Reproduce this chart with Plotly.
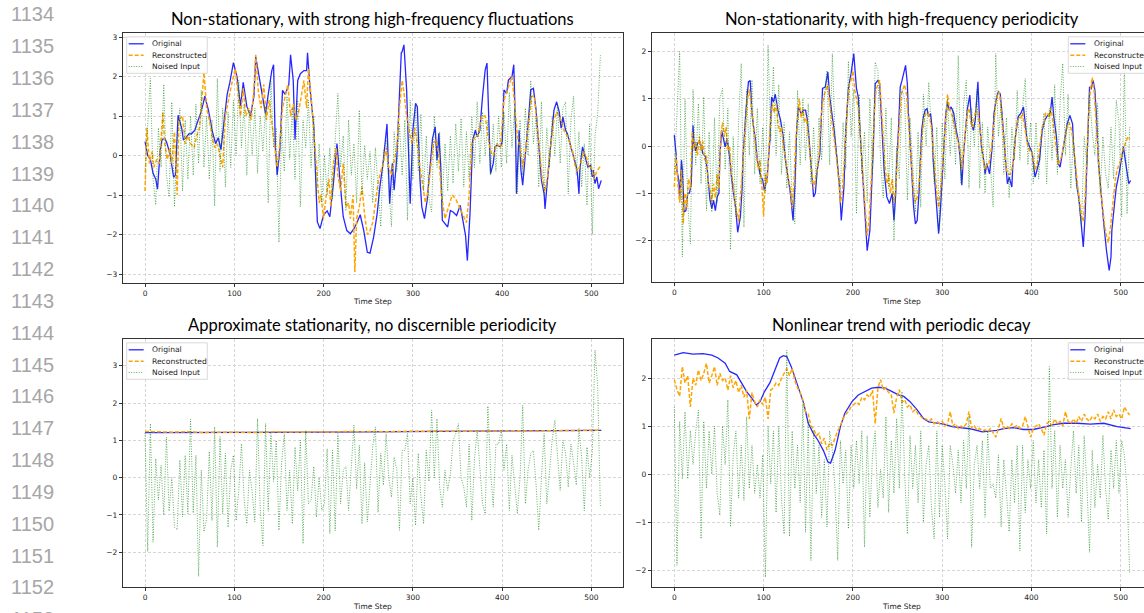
import plotly.graph_objects as go

W, H = 1144, 613

# ---------------- DATA ----------------
# Panel 1: Non-stationary, with strong high-frequency fluctuations
p1_orig_x = [0,3,6,9,12,14,17,19,22,24,28,32,34,37,41,43,46,49,52,56,58,62,65,67,71,75,79,82,85,88,
             92,95,99,103,107,110,114,118,122,124,128,131,135,138,142,144,146,148,151,154,157,161,163,166,168,171,174,178,181,182,
             185,189,193,196,200,204,207,211,215,219,222,226,230,234,237,241,245,249,252,256,260,263,267,271,274,277,279,282,285,287,
             288,290,293,295,297,300,303,305,308,310,313,316,319,322,325,327,329,331,333,336,339,342,345,349,353,356,359,361,364,367,
             370,372,375,378,381,383,385,387,390,392,394,398,400,402,405,407,411,413,415,416,419,421,423,426,430,432,435,438,441,444,
             447,448,450,454,458,461,464,466,468,471,473,476,479,482,484,486,487,490,493,496,499,501,502,504,506,508,511]
p1_orig_y = [0.35,0.0,-0.1,-0.45,-0.6,-0.85,0.13,0.4,0.43,0.35,0.05,-0.55,-0.5,1.02,0.7,0.4,0.45,0.55,0.55,0.65,0.8,1.05,1.3,1.5,1.15,0.65,0.3,0.45,0.15,0.75,
             1.55,1.85,2.35,2.0,1.25,1.85,1.25,1.0,1.5,2.5,2.0,1.65,1.05,1.55,2.15,2.3,0.2,-0.5,0.15,1.65,1.55,1.78,2.55,1.9,0.4,1.9,2.07,2.15,2.15,2.6,
             1.65,0.73,-1.68,-1.85,-1.5,-1.4,-1.55,-0.7,0.3,-0.8,-1.55,-1.9,-1.98,-1.85,-1.72,-1.5,-1.9,-2.45,-2.47,-2.07,-1.47,-0.8,-0.12,0.8,-1.22,-0.2,-0.88,-0.03,1.5,2.6,
             2.63,2.8,1.66,0.22,-1.22,0.64,1.32,1.23,-0.63,-1.3,-1.6,-1.13,-0.37,0.43,0.73,-0.12,0.56,-0.2,-1.64,-1.73,-1.81,-1.39,-1.43,-1.52,-1.26,-1.64,-2.03,-2.66,-1.47,0.39,
             0.64,0.47,0.64,1.49,2.17,2.34,0.81,-0.46,-0.2,0.22,0.26,0.22,0.35,1.66,1.57,1.91,2.0,2.3,0.64,-0.97,0.64,-0.37,-0.75,-0.03,1.07,1.66,1.7,1.15,0.14,-0.63,
             -0.97,-1.35,-0.8,0.14,1.15,1.36,1.1,0.69,0.98,0.64,0.56,0.3,0.05,-0.2,-0.37,-0.97,-0.37,0.22,-0.03,-0.29,-0.25,-0.54,-0.37,-0.71,-0.54,-0.84,-0.63]

p1_rec_x = [0,2,5,8,10,13,16,18,20,22,25,28,30,33,36,38,42,45,48,51,55,58,61,64,66,69,72,75,78,81,
            84,87,90,93,96,99,101,104,107,110,113,116,119,122,124,127,130,133,136,139,142,145,148,151,154,157,160,163,166,169,
            172,175,178,181,183,186,189,192,195,197,200,203,206,208,211,214,216,219,222,225,228,230,233,235,237,240,243,246,249,252,
            255,258,261,264,267,270,273,276,279,282,285,288,290,293,296,299,302,305,308,311,314,317,320,323,326,329,332,336,340,344,
            348,352,356,360,363,366,370,373,377,381,384,387,390,394,398,402,405,408,411,414,417,420,423,426,430,433,436,439,442,445,
            448,451,454,458,461,464,467,470,473,476,479,482,485,488,491,494,497,500,503,506,509,511]
p1_rec_y = [-0.9,0.7,-0.2,0.1,-0.3,-0.1,-0.2,0.5,1.1,0.3,-0.1,0.2,-0.2,0.6,-1.0,0.9,1.0,0.3,0.5,0.3,0.2,0.5,0.7,1.5,2.1,1.2,0.9,0.5,0.2,0.3,
            0.0,-0.3,1.0,1.4,1.7,2.0,2.2,1.6,1.0,1.7,1.0,1.2,0.9,1.7,2.55,1.6,1.2,1.8,0.9,1.4,0.8,0.2,-0.3,0.3,1.2,1.5,1.8,1.0,1.3,0.9,
            1.1,1.5,1.9,1.2,2.2,1.5,0.6,-0.3,-1.2,-1.0,-1.6,-1.0,-0.6,-1.3,-0.2,0.2,-0.5,-0.9,-0.2,-1.3,-1.2,-1.6,-1.0,-2.95,-1.6,-1.3,-0.8,-1.5,-2.0,-1.9,
            -1.7,-1.2,-0.7,-0.4,-0.2,0.2,-0.3,-0.5,-0.1,0.2,1.2,1.9,1.6,1.0,0.6,0.3,0.7,0.3,-0.3,-0.8,-1.2,-0.9,-0.3,0.3,0.4,0.0,-1.0,-1.6,-1.3,-1.0,
            -1.1,-1.3,-1.5,-1.7,-1.0,0.3,0.5,0.5,1.0,1.0,0.5,0.1,0.0,0.3,0.2,1.4,1.6,1.8,2.0,1.3,0.5,0.2,-0.3,0.1,0.9,1.5,1.5,0.8,0.0,-0.6,
            -0.9,-0.5,0.2,0.9,1.1,1.0,0.8,0.6,0.5,0.3,0.1,-0.3,-0.4,-0.2,0.1,0.0,-0.3,-0.3,-0.6,-0.4,-0.3,-0.3]

# noised inputs sampled every 3 steps
p1_noise_y = [-0.4,0.7,1.95,-0.6,-1.25,0.7,-0.3,1.8,-0.5,-1.05,
              1.35,-1.3,0.3,1.2,-0.9,0.9,-0.6,1.0,-0.5,1.3,
              -0.2,1.65,-0.3,1.0,-0.6,0.9,-1.28,1.95,-0.4,1.2,
              -0.8,1.1,-0.3,1.4,0.0,1.9,0.2,1.3,-0.5,1.15,
              0.0,1.2,-0.45,1.0,0.1,1.23,-1.2,1.9,0.2,0.7,
              -2.2,0.73,-0.4,1.5,-0.1,1.2,-0.6,1.4,-1.3,0.9,
              0.2,1.4,-0.3,1.0,-1.0,0.3,-1.2,0.0,-1.0,0.2,
              -1.1,0.4,1.57,-0.3,0.5,-1.4,0.9,-0.5,0.3,-1.2,
              1.15,-1.0,0.26,-0.6,0.1,-1.2,0.2,-0.8,-1.8,0.1,
              0.4,-0.8,-1.8,0.6,-0.4,0.8,-0.5,0.9,-1.64,1.4,
              -0.6,1.27,-0.4,1.05,-0.9,0.5,-1.1,-1.43,1.0,-0.3,
              0.6,-1.2,0.3,-0.9,0.5,-0.7,0.8,-0.4,0.94,-0.8,
              0.6,-0.6,1.0,-0.3,1.36,-0.2,1.1,0.0,0.9,-0.5,
              0.8,-0.4,1.0,-0.3,1.1,-0.2,1.6,0.2,1.2,-0.97,
              0.9,-0.5,1.2,0.0,1.9,0.3,1.0,-0.8,1.36,-1.0,
              0.7,-0.3,1.0,0.0,1.3,-0.2,1.2,1.36,-0.97,0.9,
              1.5,-0.5,0.6,-0.8,0.3,-1.26,0.8,-2.0,0.5,1.06,
              2.54]

# Panel 2: Non-stationarity, with high-frequency periodicity
p2_orig_x = [0,2,3,5,6,8,9,11,13,15,17,19,21,22,24,26,28,30,32,35,37,40,42,44,46,48,50,51,53,55,
             57,59,62,64,66,69,71,74,76,77,80,83,85,87,89,91,93,96,99,101,104,107,109,111,113,116,119,122,124,127,
             130,133,135,137,139,142,145,147,149,151,153,156,158,160,163,166,169,172,174,176,179,182,185,187,190,192,195,198,201,204,
             206,208,210,212,214,216,219,221,223,225,228,230,233,235,238,241,244,246,248,249,251,253,255,257,259,261,262,264,266,268,
             270,272,274,276,277,279,281,283,285,287,289,290,292,294,296,298,300,302,304,306,308,310,313,315,317,318,320,322,324,326,
             328,331,333,335,337,340,342,344,347,348,350,353,356,358,361,363,365,367,369,371,373,375,378,379,382,385,388,391,393,395,
             398,401,403,404,406,409,412,415,418,421,423,425,428,430,432,434,436,438,440,443,446,447,449,451,453,455,457,458,460,462,
             464,465,467,469,471,473,475,478,481,484,486,487,489,490,493,495,498,500,503,505,507,509,511]
p2_orig_y = [0.23,-0.16,-0.52,-0.73,-1.15,-0.3,-0.5,-1.4,-1.37,-1.0,-1.0,-0.8,0.44,0.05,-0.1,0.05,0.12,0.01,-0.16,-0.23,-0.52,-1.15,-1.33,-1.15,-1.37,-1.08,-1.0,-0.23,0.33,0.12,
             -0.02,0.16,-0.23,-0.66,-0.94,-1.37,-1.83,-1.5,-0.87,-0.23,0.69,1.36,1.39,0.69,0.37,0.12,-0.3,-0.59,-0.73,-0.94,-0.66,0.12,1.04,0.93,1.1,0.76,0.55,0.19,-0.23,-0.59,
             -1.0,-1.58,-0.87,0.33,0.83,0.69,0.76,0.76,0.55,0.12,-0.37,-1.08,-1.0,-0.52,-0.16,1.22,1.25,1.57,1.04,0.76,0.33,-0.23,-0.87,-1.58,-0.87,0.33,1.22,1.54,1.96,1.22,
             1.04,0.33,-0.37,-1.08,-1.79,-2.22,-1.79,-0.94,0.05,1.32,1.39,1.32,0.33,-0.52,-1.08,-1.22,-1.0,-1.58,-1.0,-0.37,0.33,1.25,1.39,1.54,1.71,1.32,0.76,0.12,-0.59,-1.29,
             -1.65,-1.58,-1.0,-0.23,0.33,0.62,0.76,0.79,0.62,0.69,0.33,-0.3,-0.8,-1.15,-1.86,-1.37,-0.66,0.12,0.69,0.93,0.76,0.83,0.69,0.4,0.19,0.12,-0.23,-0.83,-0.16,0.33,
             0.76,1.08,0.47,0.33,0.55,1.36,0.47,-0.02,-0.37,-0.59,-0.37,-0.59,-0.02,0.69,1.04,1.15,1.11,0.69,0.12,-0.45,-0.8,-0.66,-0.87,-0.45,0.19,0.62,0.69,0.83,0.4,0.12,
             -0.02,-0.16,-0.52,-0.66,-0.52,-0.3,0.33,0.55,0.65,0.69,1.04,0.62,0.19,-0.37,-0.45,-0.23,-0.02,0.19,0.47,0.65,0.47,0.05,-0.37,-0.87,-1.08,-1.5,-1.79,-2.14,-1.5,-0.37,
             0.69,1.25,1.22,1.39,1.18,0.55,-0.37,-1.08,-1.65,-2.22,-2.5,-2.64,-2.36,-1.79,-1.22,-0.87,-0.59,-0.37,-0.02,-0.3,-0.52,-0.8,-0.73]

# reconstructed sampled every 2 steps
p2_rec_y = [-0.87,-0.2,-0.8,-1.2,-0.5,-1.65,-1.0,-1.3,-0.7,-0.9,0.3,-0.1,0.1,-0.2,0.2,-0.1,0.1,-0.3,-0.2,-0.8,
            -0.9,-1.2,-0.8,-1.1,-0.6,-0.9,0.2,0.5,0.2,0.4,-0.1,0.0,-0.6,-0.8,-1.2,-1.4,-1.6,-1.1,-0.5,0.0,
            0.5,1.0,1.2,0.9,0.5,0.2,-0.2,-0.5,-0.3,-0.8,-1.5,-0.6,-0.8,0.0,0.6,0.9,0.7,0.9,0.5,0.3,
            0.4,0.0,-0.2,-0.5,-0.7,-0.9,-1.3,-0.8,0.1,0.5,1.0,0.6,0.8,0.5,0.6,0.2,-0.2,-0.5,-0.9,-0.7,
            -0.5,-0.2,0.5,0.9,1.1,1.2,1.3,0.9,0.6,0.4,0.0,-0.3,-0.7,-1.2,-1.0,-0.5,0.2,0.9,1.3,1.4,
            1.6,1.2,1.0,0.8,0.3,-0.3,-0.9,-1.4,-1.9,-1.6,-1.0,-0.2,0.7,1.2,1.3,1.4,0.8,0.1,-0.4,-0.8,
            -0.6,-1.0,-0.7,-1.2,-0.9,-0.2,0.6,1.1,1.2,1.3,1.1,0.6,0.0,-0.5,-1.0,-1.2,-1.1,-0.8,-0.2,0.3,
            0.6,0.7,0.7,0.6,0.4,-0.1,-0.6,-1.0,-1.3,-1.0,-0.5,0.1,0.6,1.1,0.8,0.7,0.6,0.4,0.2,0.1,
            -0.1,-0.5,-0.1,0.3,0.7,0.8,0.5,0.4,0.6,0.8,0.75,0.4,0.0,-0.3,-0.5,-0.4,-0.4,-0.2,0.1,0.6,
            0.9,1.1,1.15,0.8,0.3,-0.2,-0.5,-0.6,-0.6,-0.5,-0.3,0.2,0.5,0.6,0.6,0.7,0.4,0.2,0.0,-0.1,
            -0.1,-0.3,-0.5,-0.4,-0.2,0.1,0.4,0.5,0.7,0.7,0.6,0.8,0.5,0.3,0.0,-0.4,-0.3,-0.2,0.0,0.2,
            0.4,0.5,0.4,0.2,-0.2,-0.6,-0.9,-1.2,-1.5,-1.6,-1.1,-0.2,0.7,1.2,1.45,1.2,0.6,-0.1,-0.6,-1.0,
            -1.4,-1.7,-1.9,-2.05,-1.8,-1.4,-1.0,-0.7,-0.5,-0.4,-0.3,-0.1,0.0,0.1,0.2,0.15]

p2_noise_y = [-0.6,0.8,2.0,-2.35,1.0,-1.2,-2.07,1.2,-0.4,0.9,
              -0.8,1.04,-1.37,0.3,-1.4,0.6,-1.2,1.0,1.22,-0.5,
              0.8,-2.2,0.2,-1.5,0.5,1.75,-1.72,1.2,-0.2,1.4,
              -0.6,0.8,-0.8,0.4,-1.0,2.14,0.1,1.68,-0.2,1.3,
              -0.6,0.5,-0.9,0.3,-1.2,-1.65,1.18,-0.4,1.0,-0.3,
              0.9,-0.8,0.4,-0.8,0.6,-0.3,1.0,1.6,-0.4,1.96,
              0.2,-0.4,-0.9,0.5,-0.5,1.8,0.2,1.2,-1.44,1.1,
              -0.6,0.3,-1.2,1.0,-0.6,1.78,1.6,-0.3,-1.1,0.8,
              -0.9,0.6,-2.0,0.0,-0.7,1.2,1.0,-1.15,0.6,-0.4,
              -1.4,0.3,-1.3,1.1,0.0,1.35,0.2,-0.8,0.4,-1.8,
              0.5,-0.7,1.0,-0.2,0.8,-0.4,1.92,-0.8,0.9,1.39,
              -0.9,0.8,0.0,1.2,-0.9,0.5,-1.0,0.4,-0.4,-1.29,
              1.96,0.2,0.9,-0.6,0.6,-1.1,0.4,-0.3,1.18,-0.3,
              0.8,1.43,-0.4,0.5,-0.8,0.5,-0.7,0.2,0.7,-0.8,
              0.8,-0.3,1.3,-0.6,0.9,1.75,-0.2,1.1,-0.9,0.2,
              -0.8,-1.2,-1.72,0.2,-0.4,1.1,0.3,-0.2,0.9,-1.0,
              0.2,-0.6,-0.9,0.4,-0.7,0.97,0.5,-1.5,1.75,-1.44,
              0.4]

# Panel 3: Approximate stationarity, no discernible periodicity
p3_orig_x = [0,50,100,150,200,250,300,350,400,450,511]
p3_orig_y = [1.21,1.21,1.2,1.22,1.22,1.23,1.24,1.25,1.26,1.265,1.27]
p3_rec_x = [0,16,32,48,64,80,96,112,128,144,160,176,192,208,224,240,256,272,288,304,320,336,352,368,384,400,416,432,448,464,480,496,511]
p3_rec_y = [1.24,1.23,1.22,1.23,1.21,1.22,1.21,1.22,1.21,1.23,1.22,1.22,1.23,1.22,1.24,1.23,1.24,1.23,1.24,1.25,1.24,1.25,1.24,1.25,1.26,1.25,1.26,1.25,1.26,1.27,1.26,1.27,1.27]
p3_noise_y = [1.2,-1.98,1.45,-1.73,0.51,-0.6,0.33,-1.0,1.09,-0.9,
              0.0,-1.33,-1.4,0.47,-1.05,0.6,-0.97,1.57,-0.95,0.6,
              -2.65,0.2,-1.45,-1.1,0.7,-1.15,1.36,-1.86,1.1,-0.97,
              0.65,-1.33,0.2,0.6,-1.15,-0.35,0.91,-0.6,-1.24,0.2,
              -0.4,-1.19,1.58,-0.8,-1.82,1.45,-0.9,1.18,-0.1,1.0,
              -1.41,0.4,1.18,-0.88,0.2,-1.24,0.82,-0.35,1.0,-1.77,
              1.27,-0.7,-0.6,0.3,-1.06,0.0,-0.88,-0.7,0.78,-1.5,
              0.73,-1.42,1.18,-0.7,0.2,0.3,-0.88,0.4,1.41,-0.3,
              0.87,-1.24,0.4,-1.19,-0.25,0.82,1.36,-0.93,0.65,-0.2,
              1.18,0.0,-0.52,0.55,0.2,-1.41,0.73,0.73,1.18,-0.7,
              0.0,-1.28,0.65,-0.5,-1.24,0.73,-0.1,1.81,0.0,1.58,
              -0.25,-0.79,0.2,-0.34,0.1,1.0,1.18,1.45,0.0,-0.25,
              -0.79,0.9,-1.15,0.5,1.27,0.2,-0.7,-0.97,1.92,0.2,
              -0.79,0.9,0.9,1.27,0.2,0.9,-0.88,0.6,-0.2,-0.97,
              0.0,1.94,-0.7,0.2,0.65,0.73,-0.2,-1.41,0.0,1.18,
              -0.7,0.2,1.0,1.54,0.46,-0.34,1.0,0.65,-0.25,0.9,
              0.4,-0.2,1.32,0.55,-0.88,0.82,0.0,0.7,3.42,2.44,
              -0.8]

# Panel 4: Nonlinear trend with periodic decay
p4_orig_x = [0,10,21,32,42,49,57,62,70,75,81,87,92,96,101,107,113,118,122,126,131,137,145,150,156,161,167,172,175,180,
             186,191,199,206,214,221,229,236,244,251,257,264,272,279,285,292,302,311,322,333,345,354,361,369,380,391,402,414,425,436,
             451,466,481,496,511]
p4_orig_y = [2.48,2.53,2.5,2.51,2.48,2.42,2.31,2.14,2.07,1.9,1.72,1.58,1.44,1.51,1.72,1.9,2.17,2.42,2.47,2.45,2.24,1.9,1.47,1.06,0.84,0.7,0.49,0.25,0.23,0.49,
             0.99,1.27,1.51,1.65,1.72,1.79,1.81,1.79,1.72,1.65,1.62,1.51,1.34,1.16,1.09,1.07,1.04,0.99,0.97,0.94,0.88,0.9,0.91,0.95,0.97,0.93,0.93,0.98,1.03,1.06,
             1.06,1.04,1.06,0.99,0.95]
p4_rec_y = [1.97,1.76,1.62,2.24,1.9,2.05,1.4,2.0,1.85,2.17,
            1.95,2.1,2.31,1.9,2.05,2.24,1.85,2.1,1.95,2.0,
            1.75,2.05,1.8,1.95,1.7,1.85,1.6,1.75,1.15,1.7,
            1.5,1.4,1.55,1.45,1.6,1.15,1.75,1.8,1.9,1.85,
            2.0,2.1,2.2,2.05,2.2,1.95,1.8,1.7,1.55,1.3,
            1.25,1.0,0.95,0.8,0.85,0.63,0.75,0.5,0.65,0.6,
            0.75,0.9,1.0,1.15,1.25,1.3,1.4,1.45,1.5,1.45,
            1.6,1.55,1.65,1.6,1.75,1.05,1.8,1.97,1.75,1.8,
            1.7,1.65,1.27,1.6,1.76,1.5,1.55,1.4,1.45,1.3,
            1.35,1.25,1.2,1.15,1.15,1.1,1.15,1.05,1.1,1.05,
            1.1,1.0,1.05,1.3,1.0,1.05,0.95,1.0,0.97,1.05,
            1.3,0.95,1.0,0.92,0.95,0.9,0.92,0.88,0.95,0.85,
            0.77,0.95,1.16,0.95,1.0,0.95,1.05,0.98,1.02,0.95,
            1.0,1.2,0.95,0.77,0.95,1.0,1.05,0.95,0.81,1.05,
            1.1,1.0,1.15,1.05,1.1,1.0,1.3,1.1,1.05,1.15,
            1.05,1.2,1.1,1.25,1.15,1.1,1.2,1.15,1.25,1.1,
            1.2,1.15,1.3,1.15,1.34,1.2,1.25,1.15,1.4,1.3,
            1.23]
p4_noise_y = [1.4,-1.9,1.1,-0.1,1.3,-0.1,0.9,0.2,0.9,1.33,
              -1.35,1.1,-0.3,0.9,0.0,1.0,-0.4,-0.86,1.0,0.2,
              1.55,-1.1,0.4,0.9,-0.5,0.6,-0.55,1.2,-0.3,0.6,
              -0.4,0.2,-0.5,0.4,-2.15,1.0,-0.2,0.9,-0.8,1.0,
              -0.5,-1.25,2.58,-1.3,0.9,-0.3,0.6,-0.6,1.47,-1.21,
              1.1,-1.8,0.9,-0.4,0.6,-0.9,0.3,-1.1,0.9,0.5,
              -0.3,-1.8,0.7,-0.2,0.5,-1.14,0.6,-0.3,0.7,-0.2,
              0.9,-1.52,0.8,-0.9,0.4,0.9,-0.7,0.1,-0.5,1.2,
              -0.8,0.7,-0.4,1.16,-0.3,1.72,0.0,-1.25,0.8,-0.3,
              0.6,-0.6,0.9,-1.0,0.2,0.6,-0.7,-1.35,0.9,-0.9,
              0.6,-0.2,-1.35,0.6,0.2,-0.4,0.5,-0.6,0.7,-0.3,
              1.21,-1.53,0.2,0.6,-0.3,0.7,-0.9,0.9,-0.3,-0.2,
              -0.5,0.4,-1.1,0.3,-0.4,-1.2,0.3,-0.6,0.6,-1.6,
              0.6,-0.8,0.3,-0.3,0.7,-0.6,0.3,-0.7,0.5,-1.25,
              2.24,-0.3,0.9,-0.9,0.6,-0.3,0.3,-0.9,0.1,0.9,
              -0.4,0.6,-1.0,0.8,-0.2,-1.63,0.5,-0.7,0.2,-0.5,
              0.81,-0.3,-0.95,0.5,-0.3,0.7,-0.4,0.7,0.4,-0.33,
              -2.08]

titles = ["Non-stationary, with strong high-frequency fluctuations",
          "Non-stationarity, with high-frequency periodicity",
          "Approximate stationarity, no discernible periodicity",
          "Nonlinear trend with periodic decay"]
legend_labels = ["Original", "Reconstructed", "Noised Input"]
x_ticks = [0, 100, 200, 300, 400, 500]
line_numbers = list(range(1134, 1154))

# ---------------- STYLE ----------------
BLUE = "rgba(0,0,255,0.85)"
ORANGE = "#FFA500"
GREEN = "rgba(0,128,0,0.62)"
AX = "#333333"
GRID = "#d6d6d6"
TICKFONT = dict(family="DejaVu Sans", size=7.5, color="#222222")


def every(step, n):
    return [step * i for i in range(n)]


panels = [
    dict(ox=p1_orig_x, oy=p1_orig_y, rx=p1_rec_x, ry=p1_rec_y,
         nx=every(3, len(p1_noise_y)), ny=p1_noise_y),
    dict(ox=p2_orig_x, oy=p2_orig_y, rx=every(2, len(p2_rec_y)), ry=p2_rec_y,
         nx=every(3, len(p2_noise_y)), ny=p2_noise_y),
    dict(ox=p3_orig_x, oy=p3_orig_y, rx=p3_rec_x, ry=p3_rec_y,
         nx=every(3, len(p3_noise_y)), ny=p3_noise_y),
    dict(ox=p4_orig_x, oy=p4_orig_y, rx=every(3, len(p4_rec_y)), ry=p4_rec_y,
         nx=every(3, len(p4_noise_y)), ny=p4_noise_y),
]

# pixel geometry of the four axes boxes (left, top, right, bottom)
boxes = [(122.7, 33.3, 622.7, 282.7), (651.7, 33.3, 1144.0, 282.3),
         (122.7, 339.3, 622.7, 587.3), (651.7, 339.3, 1144.0, 587.3)]
xranges = [[-25.0, 535.0], [-25.3, 526.0], [-25.0, 535.0], [-25.3, 526.0]]
yranges = [[-3.22, 3.094], [-2.89, 2.39], [-2.94, 3.71], [-2.36, 2.81]]
yticks = [[-3, -2, -1, 0, 1, 2, 3], [-2, -1, 0, 1, 2], [-2, -1, 0, 1, 2, 3], [-2, -1, 0, 1, 2]]


def fx(px):
    return px / W


def fy(py):
    return 1 - py / H


fig = go.Figure()
layout = dict(width=W, height=H, margin=dict(l=0, r=0, t=0, b=0),
              paper_bgcolor="white", plot_bgcolor="white", showlegend=False)
annotations = []
shapes = []

for i, (p, box) in enumerate(zip(panels, boxes)):
    n = "" if i == 0 else str(i + 1)
    xa, ya = "x" + n, "y" + n
    l, t, r, b = box
    fig.add_trace(go.Scatter(x=p["ox"], y=p["oy"], mode="lines", xaxis=xa, yaxis=ya,
                             line=dict(color=BLUE, width=1.3)))
    fig.add_trace(go.Scatter(x=p["rx"], y=p["ry"], mode="lines", xaxis=xa, yaxis=ya,
                             line=dict(color=ORANGE, width=1.5, dash="4px,2px")))
    fig.add_trace(go.Scatter(x=p["nx"], y=p["ny"], mode="lines", xaxis=xa, yaxis=ya,
                             line=dict(color=GREEN, width=1.0, dash="1px,1.5px")))
    right_open = r >= W
    layout["xaxis" + n] = dict(domain=[fx(l), min(1.0, fx(r))], range=xranges[i], anchor=ya,
                               tickvals=x_ticks, ticks="outside", ticklen=3, tickwidth=0.8,
                               tickcolor=AX, tickfont=TICKFONT, showline=True, linecolor=AX,
                               linewidth=0.9, mirror=True, showgrid=True, gridcolor=GRID,
                               gridwidth=0.7, griddash="3px,2px", zeroline=False)
    layout["yaxis" + n] = dict(domain=[fy(b), fy(t)], range=yranges[i], anchor=xa,
                               tickvals=yticks[i], ticks="outside", ticklen=3, tickwidth=0.8,
                               tickcolor=AX, tickfont=TICKFONT, showline=True, linecolor=AX,
                               linewidth=0.9, mirror=(not right_open), showgrid=True,
                               gridcolor=GRID, gridwidth=0.7, griddash="3px,2px", zeroline=False)
    cx = (l + (l + 500.0)) / 2
    # title
    annotations.append(dict(text=titles[i], x=fx(cx), y=fy(t - 14.5), xref="paper", yref="paper",
                            xanchor="center", yanchor="middle", showarrow=False,
                            font=dict(family="Lato", size=16.5, color="black")))
    # x axis label
    annotations.append(dict(text="Time Step", x=fx(cx), y=fy(b + 19), xref="paper", yref="paper",
                            xanchor="center", yanchor="middle", showarrow=False,
                            font=dict(family="DejaVu Sans", size=7.5, color="#222222")))
    # manual legend (matplotlib style)
    if i in (0, 2):
        bl = l + 4.0
    else:
        bl = 1068.3
    bt = t + 3.5
    shapes.append(dict(type="rect", xref="paper", yref="paper", x0=fx(bl), x1=fx(bl + 80.6),
                       y0=fy(bt), y1=fy(bt + 36.5), line=dict(color="#d0d0d0", width=0.8),
                       fillcolor="rgba(255,255,255,0.85)", layer="above"))
    styles = [(BLUE, 1.3, "solid"), (ORANGE, 1.5, "4px,2px"), (GREEN, 1.0, "1px,1.5px")]
    for k, (lab, (col, wd, ds)) in enumerate(zip(legend_labels, styles)):
        yy = bt + 7 + k * 11.35
        shapes.append(dict(type="line", xref="paper", yref="paper", x0=fx(bl + 2), x1=fx(bl + 17),
                           y0=fy(yy), y1=fy(yy), line=dict(color=col, width=wd, dash=ds),
                           layer="above"))
        annotations.append(dict(text=lab, x=fx(bl + 23.3), y=fy(yy), xref="paper", yref="paper",
                                xanchor="left", yanchor="middle", showarrow=False,
                                font=dict(family="DejaVu Sans", size=7.6, color="#222222")))

# page line numbers on the left margin
for k, num in enumerate(line_numbers):
    annotations.append(dict(text=str(num), x=fx(55.5), y=fy(14.5 + 31.83 * k), xref="paper",
                            yref="paper", xanchor="right", yanchor="middle", showarrow=False,
                            font=dict(family="Liberation Sans", size=20, color="#a6a6a6")))

layout["annotations"] = annotations
layout["shapes"] = shapes
fig.update_layout(**layout)
fig.write_html("out.html")
